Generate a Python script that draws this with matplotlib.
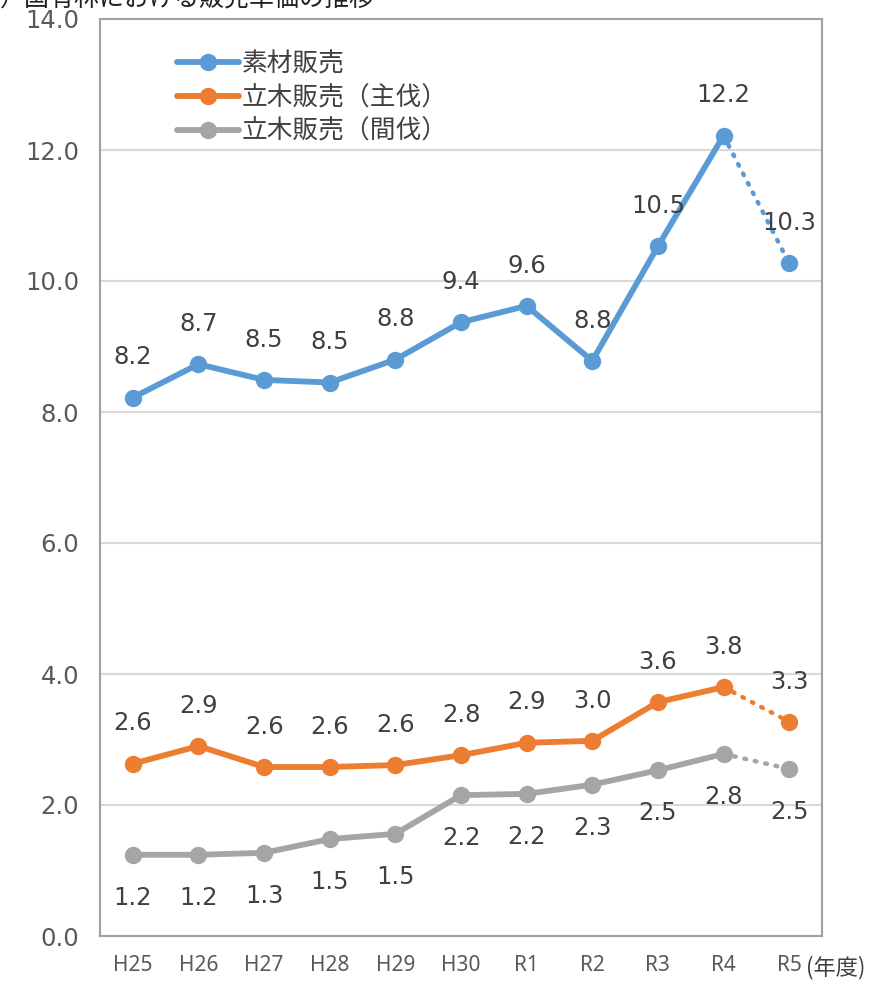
import numpy as np
import matplotlib.pyplot as plt

plt.rcParams['font.family'] = ['DejaVu Sans', 'Noto Sans CJK JP']

years = ['H25', 'H26', 'H27', 'H28', 'H29', 'H30', 'R1', 'R2', 'R3', 'R4', 'R5']
sozai = [8.22, 8.73, 8.49, 8.45, 8.80, 9.37, 9.62, 8.78, 10.53, 12.22, 10.27]
shubatsu = [2.63, 2.90, 2.58, 2.58, 2.61, 2.76, 2.95, 2.98, 3.57, 3.80, 3.27]
kanbatsu = [1.24, 1.24, 1.27, 1.48, 1.56, 2.15, 2.17, 2.31, 2.53, 2.78, 2.55]
# data labels as printed in the chart
sozai_lbl = ['8.2', '8.7', '8.5', '8.5', '8.8', '9.4', '9.6', '8.8', '10.5', '12.2', '10.3']
shubatsu_lbl = ['2.6', '2.9', '2.6', '2.6', '2.6', '2.8', '2.9', '3.0', '3.6', '3.8', '3.3']
kanbatsu_lbl = ['1.2', '1.2', '1.3', '1.5', '1.5', '2.2', '2.2', '2.3', '2.5', '2.8', '2.5']
names = ['素材販売', '立木販売（主伐）', '立木販売（間伐）']
colors = ['#5B9BD5', '#ED7D31', '#A5A5A5']

fig = plt.figure(figsize=(8.76, 9.84), dpi=100)
ax = fig.add_axes([100/876, 48/984, 722/876, 917/984])

x = np.arange(len(years))
series = [sozai, shubatsu, kanbatsu]
labels = [sozai_lbl, shubatsu_lbl, kanbatsu_lbl]
# label offsets in points (above for blue/orange, below for gray)
offsets = [29, 29, -31]
for vals, lbls, name, c, off in zip(series, labels, names, colors, offsets):
    ax.plot(x[:-1], vals[:-1], color=c, lw=4.2, marker='o', ms=11.5, label=name,
            solid_capstyle='round', zorder=3)
    ax.plot(x[-2:], vals[-2:], color=c, lw=3.2, ls=(0, (0.4, 2.0)),
            dash_capstyle='round', zorder=2)
    ax.plot(x[-1], vals[-1], 'o', color=c, ms=11.5, zorder=3)
    for i, v in enumerate(vals):
        ax.annotate(lbls[i], (x[i], v), xytext=(0, off), textcoords='offset points',
                    ha='center', va='center', fontsize=17.5, color='#404040')

ax.set_xlim(-0.5, len(years) - 0.5)
ax.set_ylim(0, 14)
yt = np.arange(0, 14.1, 2)
ax.set_yticks(yt)
ax.set_yticklabels([f'{t:.1f}' for t in yt], fontsize=17.5, color='#595959')
ax.set_xticks(x)
ax.set_xticklabels(years, fontsize=15, color='#595959', family='Noto Sans')
ax.tick_params(length=0)
ax.tick_params(axis='x', pad=14)
ax.tick_params(axis='y', pad=15)
ax.grid(axis='y', color='#D9D9D9', lw=1.5)
ax.set_axisbelow(True)
for s in ax.spines.values():
    s.set_color('#A0A0A0')
    s.set_linewidth(1.5)

ax.legend(loc='upper left', bbox_to_anchor=(0.075, 0.99), frameon=False,
          labelcolor='#404040', handlelength=2.4, handletextpad=0.1, labelspacing=0.3,
          prop={'family': ['Noto Sans CJK JP'], 'size': 18.5})

fig.text(806/876, 1 - 968/984, '(年度)', fontsize=16, color='#404040', va='center', ha='left',
         family=['Noto Sans CJK JP'])
fig.text(0.0, 1 - 11/984, '）国有林における販売単価の推移', fontsize=18, color='#202020',
         va='bottom', ha='left', family=['Noto Sans CJK JP'])

fig.savefig('out.png', dpi=100)
